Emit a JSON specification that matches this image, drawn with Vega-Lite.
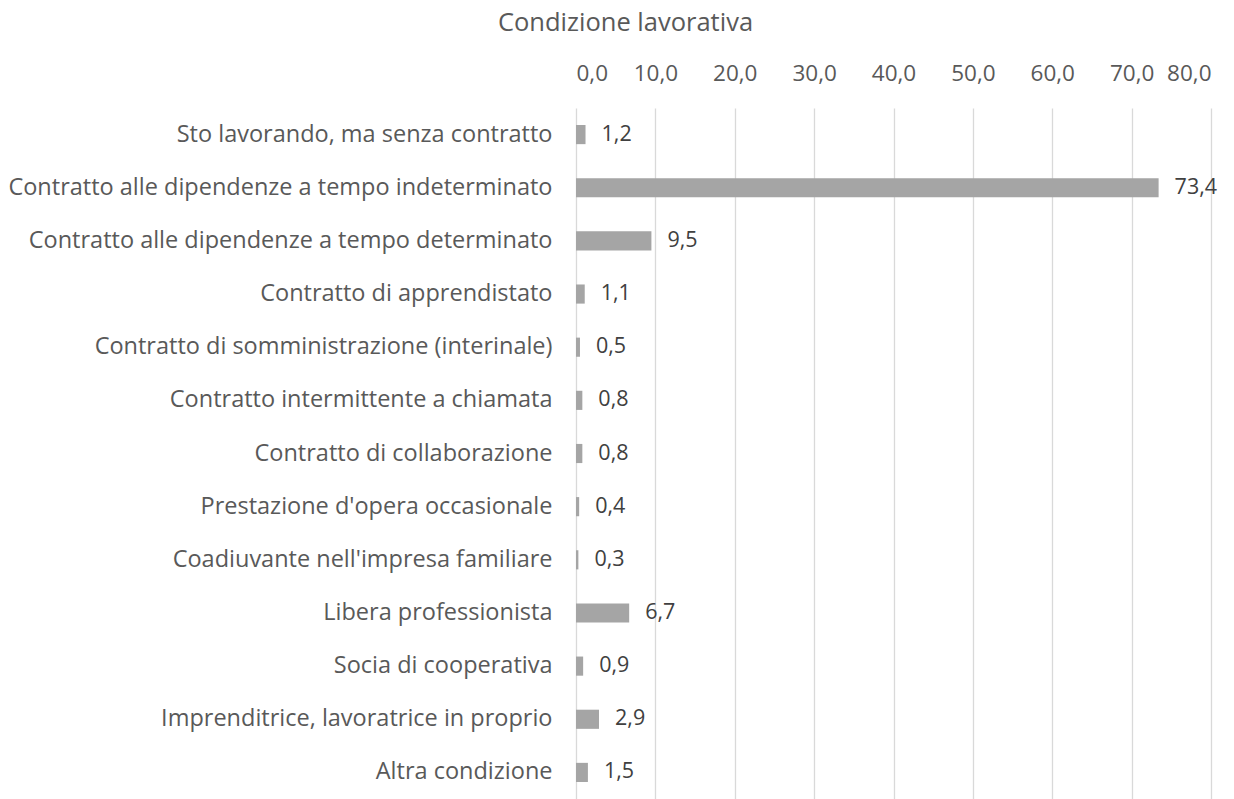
{
  "$schema": "https://vega.github.io/schema/vega-lite/v6.json",
  "autosize": "none",
  "width": 635,
  "height": 691,
  "padding": {"left": 576, "top": 108, "right": 23, "bottom": 0},
  "background": "white",
  "config": {
    "locale": {"number": {"decimal": ",", "thousands": ".", "grouping": [3], "currency": ["€", ""]}},
    "font": "Open Sans",
    "view": {"stroke": null}
  },
  "title": {
    "text": "Condizione lavorativa",
    "anchor": "middle",
    "dx": -268,
    "offset": 26,
    "fontSize": 25.5,
    "font": "Open Sans",
    "fontWeight": "normal",
    "color": "#595959"
  },
  "data": {
    "values": [
      {"cat": "Sto lavorando, ma senza contratto", "val": 1.2},
      {"cat": "Contratto alle dipendenze a tempo indeterminato", "val": 73.4},
      {"cat": "Contratto alle dipendenze a tempo determinato", "val": 9.5},
      {"cat": "Contratto di apprendistato", "val": 1.1},
      {"cat": "Contratto di somministrazione (interinale)", "val": 0.5},
      {"cat": "Contratto intermittente a chiamata", "val": 0.8},
      {"cat": "Contratto di collaborazione", "val": 0.8},
      {"cat": "Prestazione d'opera occasionale", "val": 0.4},
      {"cat": "Coadiuvante nell'impresa familiare", "val": 0.3},
      {"cat": "Libera professionista", "val": 6.7},
      {"cat": "Socia di cooperativa", "val": 0.9},
      {"cat": "Imprenditrice, lavoratrice in proprio", "val": 2.9},
      {"cat": "Altra condizione", "val": 1.5}
    ]
  },
  "encoding": {
    "y": {
      "field": "cat",
      "type": "nominal",
      "sort": null,
      "scale": {"paddingInner": 0.64, "paddingOuter": 0.32},
      "axis": {
        "title": null,
        "domain": false,
        "ticks": false,
        "labelPadding": 24,
        "labelFontSize": 23.5,
        "labelColor": "#595959",
        "labelLimit": 700
      }
    },
    "x": {
      "field": "val",
      "type": "quantitative",
      "scale": {"domain": [0, 80], "nice": false},
      "axis": {
        "orient": "top",
        "title": null,
        "values": [0, 10, 20, 30, 40, 50, 60, 70, 80],
        "format": ".1f",
        "domain": false,
        "ticks": false,
        "grid": true,
        "gridColor": "#D9D9D9",
        "gridWidth": 1.3,
        "labelPadding": 23,
        "labelFontSize": 22.5,
        "labelColor": "#595959"
      }
    }
  },
  "layer": [
    {"mark": {"type": "bar", "color": "#A5A5A5"}},
    {
      "mark": {"type": "text", "align": "left", "baseline": "middle", "dx": 16, "fontSize": 21.5, "color": "#404040"},
      "encoding": {"text": {"field": "val", "type": "quantitative", "format": ".1f"}}
    }
  ]
}
